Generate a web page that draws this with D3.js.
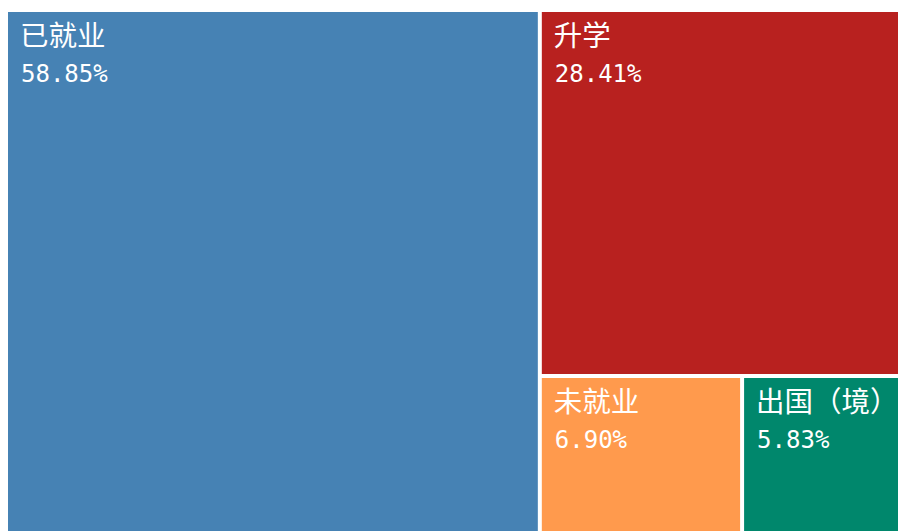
<!DOCTYPE html>
<html>
<head>
<meta charset="utf-8">
<title>Treemap</title>
<script src="https://d3js.org/d3.v7.min.js"></script>
<style>
  body { margin: 0; background: #fff; }
</style>
</head>
<body>
<div id="my_dataviz"></div>
<script>
  // categories and their shares (%)
  var names = ["已就业", "升学", "未就业", "出国（境）"]
  var values = [58.85, 28.41, 6.90, 5.83]
  var colors = ["#4682b4", "#b8211f", "#ff9a4d", "#00876c"]

  // the chart area runs a bit past the right and bottom edges of the window
  var margin = { top: 12, left: 8 },
      width = 903,
      height = 526

  var svg = d3.select("#my_dataviz")
      .append("svg")
      .attr("width", 898)
      .attr("height", 531)
      .style("display", "block")
      .append("g")
      .attr("transform", "translate(" + margin.left + "," + margin.top + ")")

  var color = d3.scaleOrdinal().domain(names).range(colors)

  var root = d3.hierarchy({ children: names.map(function (n, i) { return { name: n, value: values[i] } }) })
      .sum(function (d) { return d.value })

  d3.treemap()
      .size([width, height])
      .tile(d3.treemapSquarify)
      .paddingInner(4)(root)

  var cell = svg.selectAll("g.cell")
      .data(root.leaves())
      .enter().append("g")
      .attr("class", "cell")
      .attr("transform", function (d) { return "translate(" + d.x0 + "," + d.y0 + ")" })

  cell.append("rect")
      .attr("width", function (d) { return d.x1 - d.x0 })
      .attr("height", function (d) { return d.y1 - d.y0 })
      .attr("fill", function (d) { return color(d.data.name) })

  // category name
  cell.append("text")
      .attr("x", 12)
      .attr("y", 34)
      .attr("fill", "#fff")
      .style("font-family", "'Noto Sans CJK SC', sans-serif")
      .style("font-size", "28.5px")
      .text(function (d) { return d.data.name })

  // share
  cell.append("text")
      .attr("x", 13)
      .attr("y", 70)
      .attr("fill", "#fff")
      .style("font-family", "'DejaVu Sans Mono', 'Noto Sans CJK SC', monospace")
      .style("font-size", "24px")
      .text(function (d) { return d.data.value.toFixed(2) + "%" })
</script>
</body>
</html>
